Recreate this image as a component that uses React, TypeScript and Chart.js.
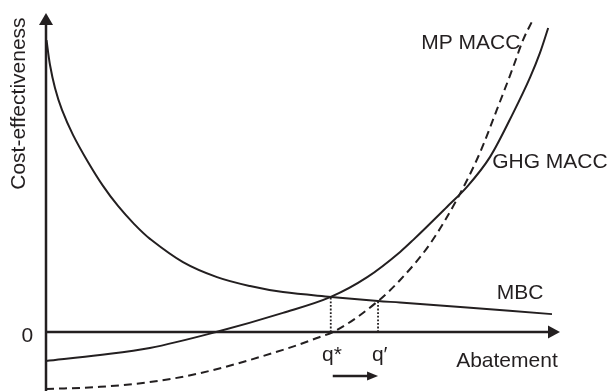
import React, { useEffect, useRef } from 'react';
import { Chart, registerables } from 'chart.js';

Chart.register(...registerables);

// Marginal benefit curve (MBC)
const mbcAbatement = [0.1, 0.78, 1.75, 3.11, 5.25, 8.17, 11.09, 14.01, 17.12, 20.23, 26.65, 33.27, 39.69, 46.11, 55.45, 64.59, 68.87, 81.91, 98.44];
const mbcCost = [91.5, 83.7, 76.5, 69.6, 61.8, 53.3, 45.8, 39.5, 33.9, 29.2, 21.9, 17.2, 14.4, 12.5, 11.0, 9.7, 9.25, 7.7, 5.6];

// GHG marginal abatement cost curve
const ghgAbatement = [0, 10.5, 20.2, 33.1, 46.1, 55.4, 62.5, 68.9, 71.4, 78.0, 81.9, 86.4, 90.9, 94.2, 96.1, 97.7];
const ghgCost = [-9.1, -7.2, -5.0, 0, 6.0, 11.0, 17.2, 25.1, 28.8, 39.2, 45.5, 54.9, 68.7, 79.9, 87.5, 95.3];

// Multi-pollutant marginal abatement cost curve
const mpAbatement = [0, 10.5, 20.2, 30.0, 46.1, 52.7, 56.6, 64.6, 68.9, 74.7, 80.2, 84.4, 87.7, 90.9, 92.8, 94.7];
const mpCost = [-17.9, -17.2, -15.7, -12.9, -5.6, -1.9, 0.6, 9.7, 16.3, 27.6, 42.3, 56.1, 69.6, 83.1, 91.5, 97.8];

// Equilibria
const qStar = 55.4;
const qStarCost = 11.0;
const qPrime = 64.6;
const qPrimeCost = 9.7;

const xMin = 0;
const xMax = 100;
const yMin = -18.5;
const yMax = 100;

const INK = '#231f20';
const FONT = '21px "Liberation Sans", Arial, Helvetica, sans-serif';

const toPoints = (xs: number[], ys: number[]) => xs.map((x, i) => ({ x, y: ys[i] }));

const annotationPlugin = {
  id: 'econAnnotations',
  beforeDatasetsDraw(chart: any) {
    const { ctx, scales } = chart;
    const xs = scales.x;
    const ys = scales.y;
    const x0 = xs.getPixelForValue(0);
    const y0 = ys.getPixelForValue(0);
    const xEnd = xs.getPixelForValue(xMax);
    const yTop = ys.getPixelForValue(yMax);
    const yBottom = ys.getPixelForValue(yMin);
    ctx.save();
    ctx.strokeStyle = INK;
    ctx.fillStyle = INK;
    ctx.lineWidth = 2.5;
    // y axis
    ctx.beginPath();
    ctx.moveTo(x0, yBottom);
    ctx.lineTo(x0, yTop + 8);
    ctx.stroke();
    ctx.beginPath();
    ctx.moveTo(x0, yTop);
    ctx.lineTo(x0 - 7, yTop + 12);
    ctx.lineTo(x0 + 7, yTop + 12);
    ctx.closePath();
    ctx.fill();
    // x axis
    ctx.beginPath();
    ctx.moveTo(x0, y0);
    ctx.lineTo(xEnd - 8, y0);
    ctx.stroke();
    ctx.beginPath();
    ctx.moveTo(xEnd, y0);
    ctx.lineTo(xEnd - 12, y0 - 6.5);
    ctx.lineTo(xEnd - 12, y0 + 6.5);
    ctx.closePath();
    ctx.fill();
    ctx.restore();
  },
  afterDraw(chart: any) {
    const { ctx, scales } = chart;
    const xs = scales.x;
    const ys = scales.y;
    const px = (v: number) => xs.getPixelForValue(v);
    const py = (v: number) => ys.getPixelForValue(v);
    ctx.save();
    ctx.fillStyle = INK;
    ctx.strokeStyle = INK;
    ctx.font = FONT;

    // curve labels
    ctx.textAlign = 'left';
    ctx.textBaseline = 'middle';
    ctx.fillText('MP MACC', px(73.0), py(90.4));
    ctx.fillText('GHG MACC', px(86.8), py(53.1));
    ctx.fillText('MBC', px(87.7), py(12.1));

    ctx.textBaseline = 'alphabetic';
    ctx.fillText('q*', px(53.7), py(-9.1));
    ctx.fillText('q\u2032', px(63.4), py(-9.1));
    ctx.fillText('Abatement', px(79.8), py(-11.0));

    ctx.textAlign = 'right';
    ctx.textBaseline = 'middle';
    ctx.fillText('0', px(-2.5), py(-1.2));

    // y axis title
    ctx.save();
    ctx.translate(px(0) - 26.5, py(71.6));
    ctx.rotate(-Math.PI / 2);
    ctx.textAlign = 'center';
    ctx.textBaseline = 'middle';
    ctx.fillText('Cost-effectiveness', 0, 0);
    ctx.restore();

    // shift arrow q* -> q'
    const ay = py(-13.8);
    const ax1 = px(qStar) + 2;
    const ax2 = px(qPrime);
    ctx.lineWidth = 2.5;
    ctx.beginPath();
    ctx.moveTo(ax1, ay);
    ctx.lineTo(ax2 - 8, ay);
    ctx.stroke();
    ctx.beginPath();
    ctx.moveTo(ax2, ay);
    ctx.lineTo(ax2 - 11, ay - 4.5);
    ctx.lineTo(ax2 - 11, ay + 4.5);
    ctx.closePath();
    ctx.fill();
    ctx.restore();
  },
};

export default function App() {
  const canvasRef = useRef<HTMLCanvasElement | null>(null);

  useEffect(() => {
    const canvas = canvasRef.current;
    if (!canvas) return;
    const curve = (label: string, xs: number[], ys: number[], dash: number[] = [], monotone = true) => ({
      label,
      data: toPoints(xs, ys),
      showLine: true,
      borderColor: INK,
      borderWidth: 2,
      borderDash: dash,
      pointRadius: 0,
      cubicInterpolationMode: (monotone ? 'monotone' : 'default') as any,
      tension: monotone ? 0 : 0.35,
      fill: false,
      clip: false as any,
    });
    const dotted = (label: string, x: number, y: number) => ({
      label,
      data: [{ x, y: 0 }, { x, y }],
      showLine: true,
      borderColor: INK,
      borderWidth: 1.8,
      borderDash: [1.8, 1.8],
      pointRadius: 0,
      fill: false,
      clip: false as any,
    });
    const chart = new Chart(canvas, {
      type: 'scatter',
      data: {
        datasets: [
          dotted('q*', qStar, qStarCost),
          dotted("q'", qPrime, qPrimeCost),
          curve('MBC', mbcAbatement, mbcCost, [], false),
          curve('GHG MACC', ghgAbatement, ghgCost),
          curve('MP MACC', mpAbatement, mpCost, [8, 5]),
        ],
      },
      options: {
        animation: false,
        responsive: false,
        devicePixelRatio: 1,
        layout: { padding: { left: 46, right: 51, top: 13, bottom: 0 } },
        plugins: {
          legend: { display: false },
          tooltip: { enabled: false },
          title: { display: false },
        },
        scales: {
          x: { type: 'linear', min: xMin, max: xMax, display: false },
          y: { type: 'linear', min: yMin, max: yMax, display: false },
        },
      },
      plugins: [annotationPlugin],
    });
    return () => chart.destroy();
  }, []);

  return (
    <div style={{ position: 'absolute', left: 0, top: 0, width: 611, height: 391, background: '#fff' }}>
      <canvas ref={canvasRef} width={611} height={391} style={{ display: 'block', width: 611, height: 391 }} />
    </div>
  );
}
